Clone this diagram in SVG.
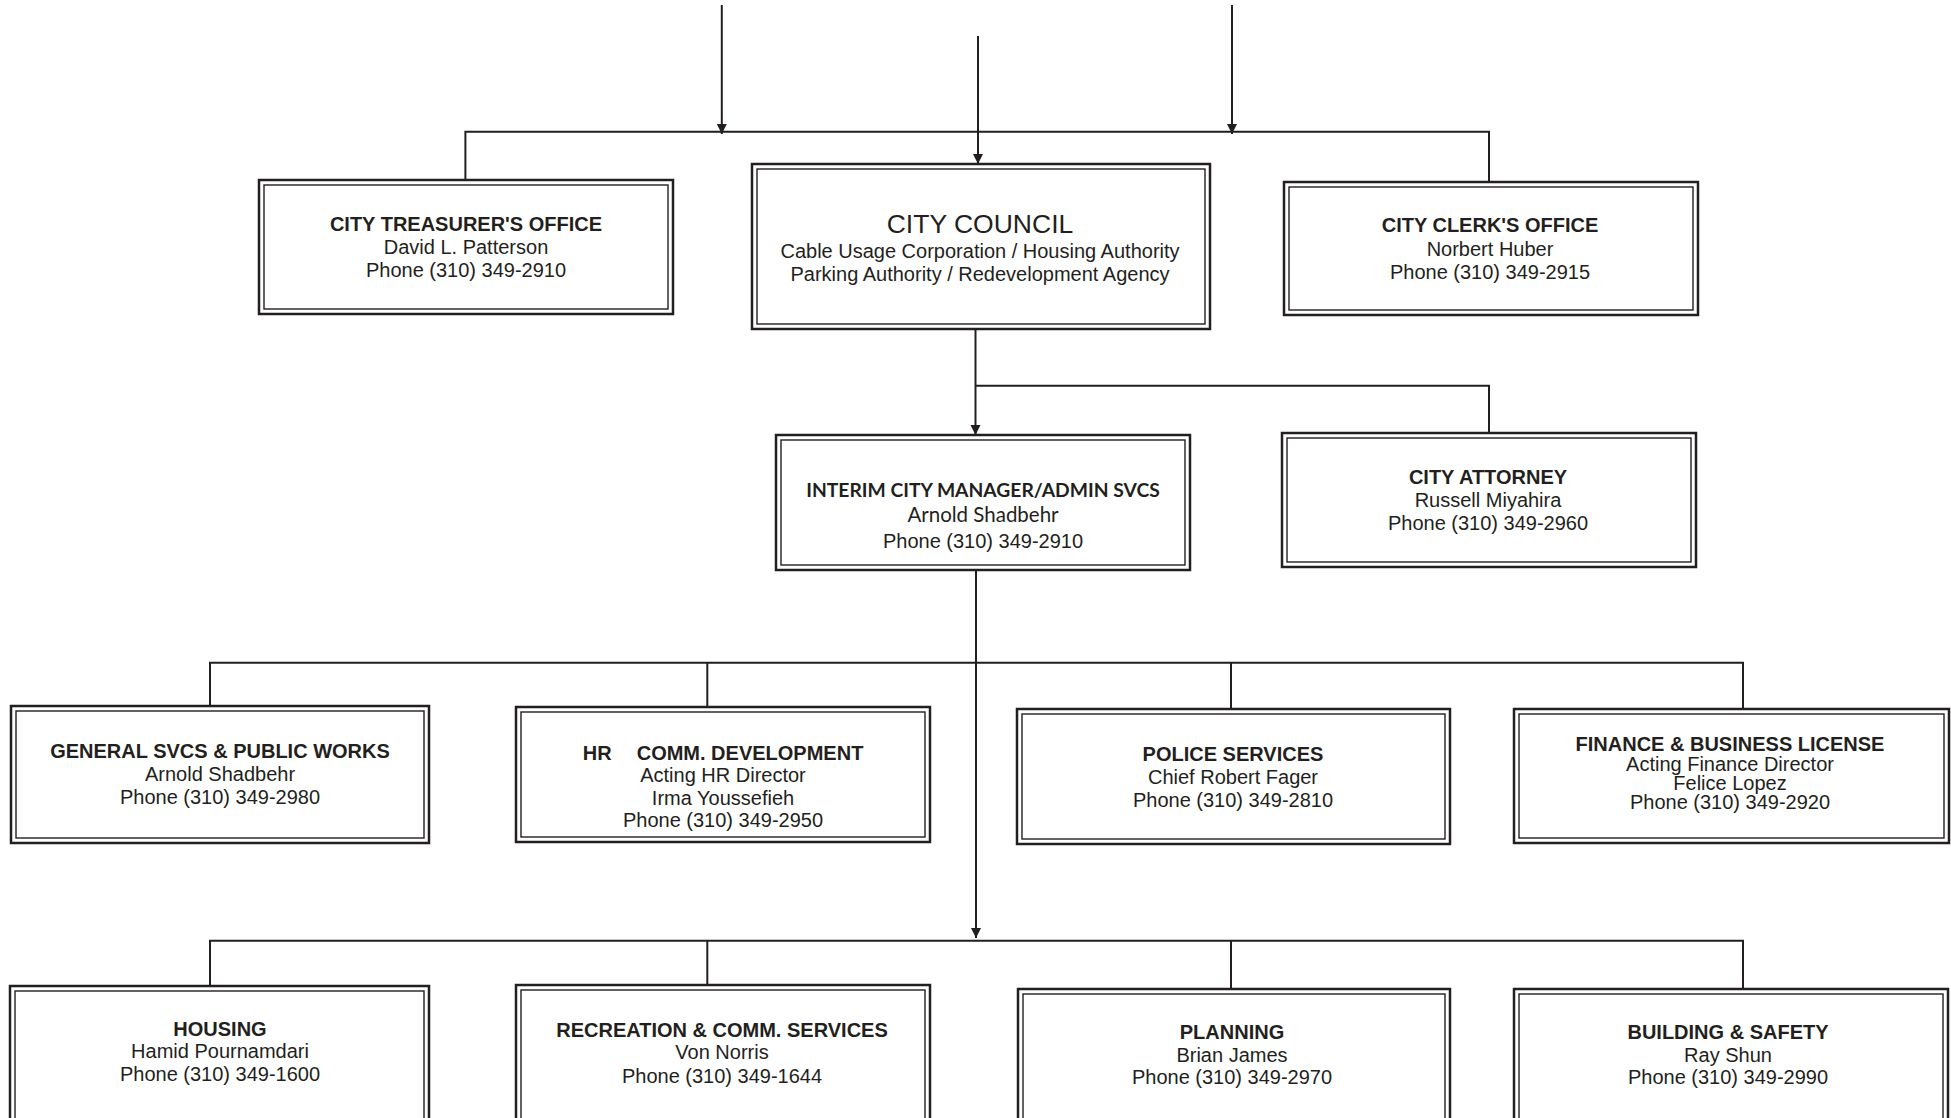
<svg xmlns="http://www.w3.org/2000/svg" width="1951" height="1118" viewBox="0 0 1951 1118">
<defs>
<style>
.bo{fill:#fff;stroke:#231f20;stroke-width:2.5}
.bi{fill:none;stroke:#231f20;stroke-width:1.4}
.ln{fill:none;stroke:#231f20;stroke-width:2}
text{font-family:"Liberation Sans",Arial,sans-serif;font-size:20px;fill:#231f20;text-anchor:middle}
.t{font-weight:bold}
.c{font-family:Lato,"Liberation Sans",sans-serif}
</style>
<marker id="ah" viewBox="0 0 10 10" refX="10" refY="5" markerWidth="10" markerHeight="11" markerUnits="userSpaceOnUse" orient="auto">
<path d="M0,0 L10,5 L0,10 z" fill="#231f20"/>
</marker>
</defs>
<rect width="1951" height="1118" fill="#fff"/>
<g id="connectors">
<line class="ln" x1="721.8" y1="5" x2="721.8" y2="134" marker-end="url(#ah)"/>
<line class="ln" x1="978" y1="36" x2="978" y2="164" marker-end="url(#ah)"/>
<line class="ln" x1="1232" y1="5" x2="1232" y2="134" marker-end="url(#ah)"/>
<polyline class="ln" points="465.4,180 465.4,131.7 1489,131.7 1489,182"/>
<line class="ln" x1="975.5" y1="329" x2="975.5" y2="435" marker-end="url(#ah)"/>
<polyline class="ln" points="975.5,385.7 1489,385.7 1489,433"/>
<line class="ln" x1="976" y1="570" x2="976" y2="938" marker-end="url(#ah)"/>
<polyline class="ln" points="210,706 210,662.7 1743,662.7 1743,709"/>
<line class="ln" x1="707.3" y1="662.7" x2="707.3" y2="707"/>
<line class="ln" x1="1231" y1="662.7" x2="1231" y2="709"/>
<polyline class="ln" points="210,986 210,940.7 1743,940.7 1743,989"/>
<line class="ln" x1="707.3" y1="940.7" x2="707.3" y2="985"/>
<line class="ln" x1="1231" y1="940.7" x2="1231" y2="989"/>
</g>
<g id="treasurer">
<rect class="bo" x="259" y="180" width="414" height="134"/>
<rect class="bi" x="264" y="185" width="404" height="124"/>
<text class="t" x="466" y="231">CITY TREASURER'S OFFICE</text>
<text x="466" y="254">David L. Patterson</text>
<text x="466" y="277">Phone (310) 349-2910</text>
</g>
<g id="council">
<rect class="bo" x="752" y="164" width="458" height="165"/>
<rect class="bi" x="757" y="169" width="448" height="155"/>
<text x="980" y="233" style="font-size:26.5px">CITY COUNCIL</text>
<text x="980" y="258">Cable Usage Corporation / Housing Authority</text>
<text x="980" y="281">Parking Authority / Redevelopment Agency</text>
</g>
<g id="clerk">
<rect class="bo" x="1284" y="182" width="414" height="133"/>
<rect class="bi" x="1289" y="187" width="404" height="123"/>
<text class="t" x="1490" y="232">CITY CLERK'S OFFICE</text>
<text x="1490" y="256">Norbert Huber</text>
<text x="1490" y="279">Phone (310) 349-2915</text>
</g>
<g id="manager">
<rect class="bo" x="776" y="435" width="414" height="135"/>
<rect class="bi" x="781" y="440" width="404" height="125"/>
<text class="t c" x="983" y="497" style="font-size:19.3px">INTERIM CITY MANAGER/ADMIN SVCS</text>
<text class="c" x="983" y="522" style="font-size:20.5px">Arnold Shadbehr</text>
<text x="983" y="548">Phone (310) 349-2910</text>
</g>
<g id="attorney">
<rect class="bo" x="1282" y="433" width="414" height="134"/>
<rect class="bi" x="1287" y="438" width="404" height="124"/>
<text class="t" x="1488" y="484">CITY ATTORNEY</text>
<text x="1488" y="507">Russell Miyahira</text>
<text x="1488" y="530">Phone (310) 349-2960</text>
</g>
<g id="general">
<rect class="bo" x="11" y="706" width="418" height="137"/>
<rect class="bi" x="16" y="711" width="408" height="127"/>
<text class="t" x="220" y="758">GENERAL SVCS &amp; PUBLIC WORKS</text>
<text x="220" y="781">Arnold Shadbehr</text>
<text x="220" y="804">Phone (310) 349-2980</text>
</g>
<g id="hr">
<rect class="bo" x="516" y="707" width="414" height="135"/>
<rect class="bi" x="521" y="712" width="404" height="125"/>
<text class="t" y="760" style="text-anchor:start"><tspan x="582.7">HR</tspan><tspan x="636.7">COMM. DEVELOPMENT</tspan></text>
<text x="723" y="782">Acting HR Director</text>
<text x="723" y="805">Irma Youssefieh</text>
<text x="723" y="827">Phone (310) 349-2950</text>
</g>
<g id="police">
<rect class="bo" x="1017" y="709" width="433" height="135"/>
<rect class="bi" x="1022" y="714" width="423" height="125"/>
<text class="t" x="1233" y="761">POLICE SERVICES</text>
<text x="1233" y="784">Chief Robert Fager</text>
<text x="1233" y="807">Phone (310) 349-2810</text>
</g>
<g id="finance">
<rect class="bo" x="1514" y="709" width="435" height="134"/>
<rect class="bi" x="1519" y="714" width="425" height="124"/>
<text class="t" x="1730" y="751">FINANCE &amp; BUSINESS LICENSE</text>
<text x="1730" y="771">Acting Finance Director</text>
<text x="1730" y="790">Felice Lopez</text>
<text x="1730" y="809">Phone (310) 349-2920</text>
</g>
<g id="housing">
<rect class="bo" x="10" y="986" width="419" height="150"/>
<rect class="bi" x="15" y="991" width="409" height="140"/>
<text class="t" x="220" y="1036">HOUSING</text>
<text x="220" y="1058">Hamid Pournamdari</text>
<text x="220" y="1081">Phone (310) 349-1600</text>
</g>
<g id="recreation">
<rect class="bo" x="516" y="985" width="414" height="150"/>
<rect class="bi" x="521" y="990" width="404" height="140"/>
<text class="t" x="722" y="1037">RECREATION &amp; COMM. SERVICES</text>
<text x="722" y="1059">Von Norris</text>
<text x="722" y="1083">Phone (310) 349-1644</text>
</g>
<g id="planning">
<rect class="bo" x="1018" y="989" width="432" height="150"/>
<rect class="bi" x="1023" y="994" width="422" height="140"/>
<text class="t" x="1232" y="1039">PLANNING</text>
<text x="1232" y="1062">Brian James</text>
<text x="1232" y="1084">Phone (310) 349-2970</text>
</g>
<g id="building">
<rect class="bo" x="1514" y="989" width="434" height="150"/>
<rect class="bi" x="1519" y="994" width="424" height="140"/>
<text class="t" x="1728" y="1039">BUILDING &amp; SAFETY</text>
<text x="1728" y="1062">Ray Shun</text>
<text x="1728" y="1084">Phone (310) 349-2990</text>
</g>
</svg>
